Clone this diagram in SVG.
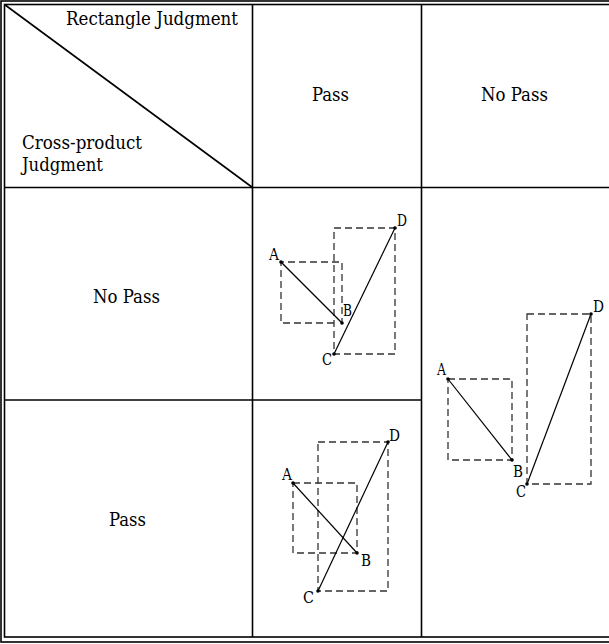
<svg xmlns="http://www.w3.org/2000/svg" width="609" height="644" viewBox="0 0 609 644">
<style>
.t{font-family:'DejaVu Serif',serif;font-size:19px;fill:#000}
.lb{font-family:'DejaVu Serif',serif;font-size:17px;fill:#000}
.grid{stroke:#000;stroke-width:1.6;fill:none}
.dash{stroke:#333;stroke-width:1.3;stroke-dasharray:7,4;fill:none}
.seg{stroke:#000;stroke-width:1.2}
.pt{fill:#000}
</style>
<rect width="609" height="644" fill="#fff"/>
<g id="table">
<rect x="1" y="1" width="614" height="641" class="grid"/>
<rect x="4.5" y="4.5" width="610" height="632.5" class="grid"/>
<line x1="4.5" y1="187.5" x2="614" y2="187.5" class="grid"/>
<line x1="252.5" y1="4.5" x2="252.5" y2="637" class="grid"/>
<line x1="421.5" y1="4.5" x2="421.5" y2="637" class="grid"/>
<line x1="4.5" y1="400" x2="421.5" y2="400" class="grid"/>
<line x1="4.5" y1="4.5" x2="252.5" y2="187.5" class="grid"/>
</g>
<g id="headers">
<text class="t" x="66" y="25" textLength="172" lengthAdjust="spacingAndGlyphs">Rectangle Judgment</text>
<text class="t" x="22" y="149" textLength="120" lengthAdjust="spacingAndGlyphs">Cross-product</text>
<text class="t" x="22" y="171" textLength="81" lengthAdjust="spacingAndGlyphs">Judgment</text>
<text class="t" x="312" y="101" textLength="37" lengthAdjust="spacingAndGlyphs">Pass</text>
<text class="t" x="481" y="101" textLength="67" lengthAdjust="spacingAndGlyphs">No Pass</text>
<text class="t" x="93" y="303" textLength="67" lengthAdjust="spacingAndGlyphs">No Pass</text>
<text class="t" x="109" y="526" textLength="37" lengthAdjust="spacingAndGlyphs">Pass</text>
</g>
<g id="diagram1">
<polyline class="dash" points="334,323 281,323 281,262 342,262 342,323"/>
<rect class="dash" x="334" y="228" width="61" height="126"/>
<line class="seg" x1="281" y1="262" x2="342" y2="323"/>
<line class="seg" x1="334" y1="354" x2="395" y2="228"/>
<circle class="pt" cx="281" cy="262" r="1.8"/><circle class="pt" cx="342" cy="323" r="1.8"/>
<circle class="pt" cx="334" cy="354" r="1.8"/><circle class="pt" cx="395" cy="228" r="1.8"/>
<text class="lb" x="269" y="260" textLength="10" lengthAdjust="spacingAndGlyphs">A</text>
<text class="lb" x="343" y="316" textLength="9" lengthAdjust="spacingAndGlyphs">B</text>
<text class="lb" x="322" y="365" textLength="10" lengthAdjust="spacingAndGlyphs">C</text>
<text class="lb" x="397" y="226" textLength="10" lengthAdjust="spacingAndGlyphs">D</text>
</g>
<g id="diagram2">
<rect class="dash" x="293" y="483" width="64" height="70"/>
<rect class="dash" x="318" y="442" width="70" height="149"/>
<line class="seg" x1="293" y1="483" x2="357" y2="553"/>
<line class="seg" x1="318" y1="591" x2="388" y2="442"/>
<circle class="pt" cx="293" cy="483" r="1.8"/><circle class="pt" cx="357" cy="553" r="1.8"/>
<circle class="pt" cx="318" cy="591" r="1.8"/><circle class="pt" cx="388" cy="442" r="1.8"/>
<text class="lb" x="282" y="480" textLength="10" lengthAdjust="spacingAndGlyphs">A</text>
<text class="lb" x="361" y="566" textLength="10" lengthAdjust="spacingAndGlyphs">B</text>
<text class="lb" x="303" y="603" textLength="11" lengthAdjust="spacingAndGlyphs">C</text>
<text class="lb" x="389" y="441" textLength="11" lengthAdjust="spacingAndGlyphs">D</text>
</g>
<g id="diagram3">
<rect class="dash" x="448" y="379" width="64" height="81"/>
<rect class="dash" x="527" y="314" width="64" height="170"/>
<line class="seg" x1="448" y1="379" x2="512" y2="460"/>
<line class="seg" x1="527" y1="484" x2="591" y2="314"/>
<circle class="pt" cx="448" cy="379" r="1.8"/><circle class="pt" cx="512" cy="460" r="1.8"/>
<circle class="pt" cx="527" cy="484" r="1.8"/><circle class="pt" cx="591" cy="314" r="1.8"/>
<text class="lb" x="437" y="375" textLength="9" lengthAdjust="spacingAndGlyphs">A</text>
<text class="lb" x="513" y="477" textLength="10" lengthAdjust="spacingAndGlyphs">B</text>
<text class="lb" x="516" y="497" textLength="10" lengthAdjust="spacingAndGlyphs">C</text>
<text class="lb" x="593" y="312" textLength="11" lengthAdjust="spacingAndGlyphs">D</text>
</g>
</svg>
